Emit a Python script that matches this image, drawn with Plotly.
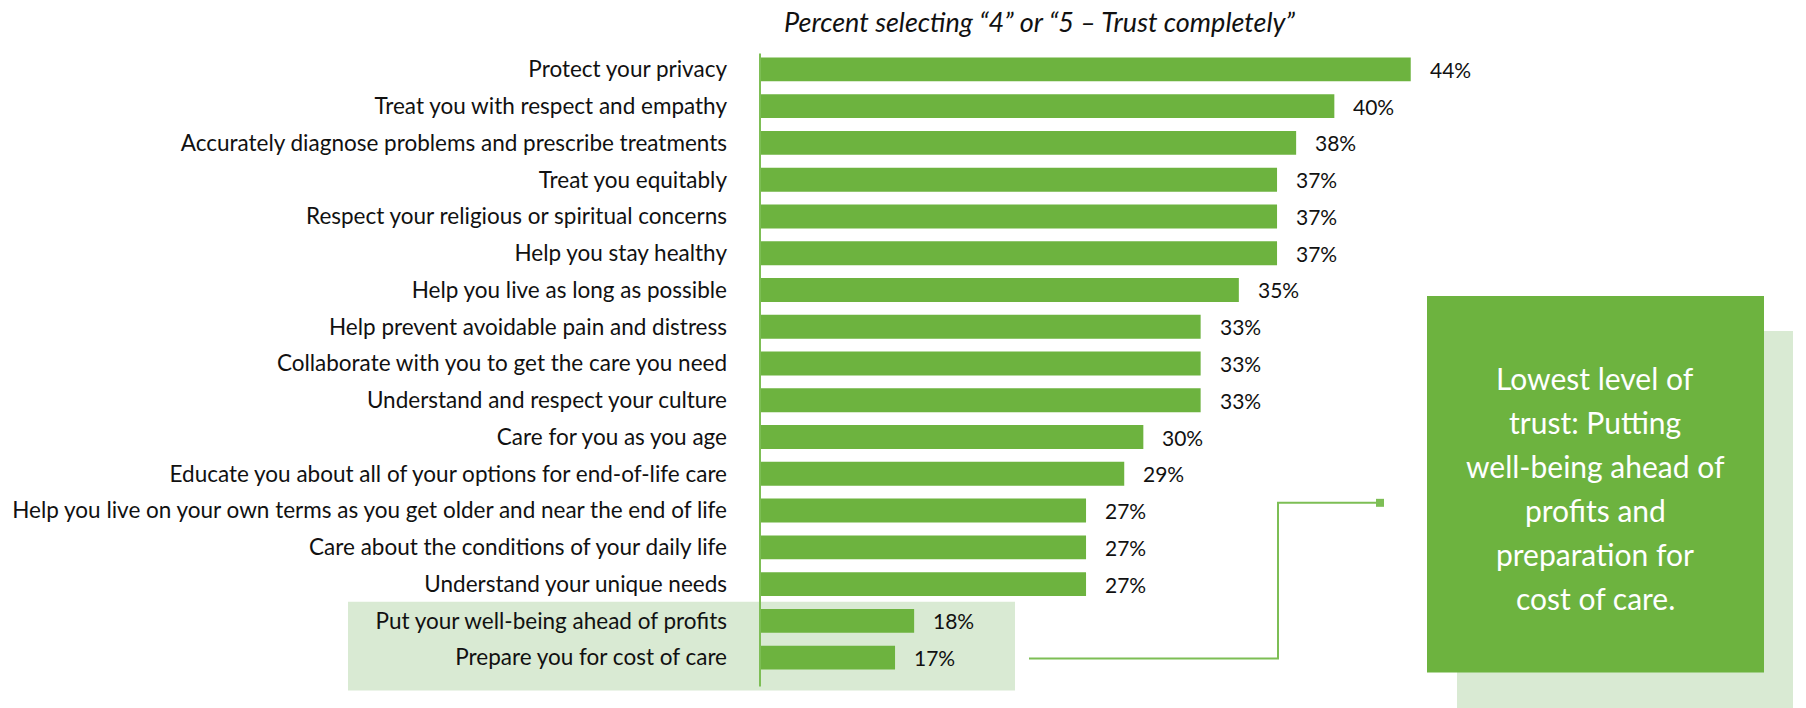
import plotly.graph_objects as go

categories = [
    "Protect your privacy",
    "Treat you with respect and empathy",
    "Accurately diagnose problems and prescribe treatments",
    "Treat you equitably",
    "Respect your religious or spiritual concerns",
    "Help you stay healthy",
    "Help you live as long as possible",
    "Help prevent avoidable pain and distress",
    "Collaborate with you to get the care you need",
    "Understand and respect your culture",
    "Care for you as you age",
    "Educate you about all of your options for end-of-life care",
    "Help you live on your own terms as you get older and near the end of life",
    "Care about the conditions of your daily life",
    "Understand your unique needs",
    "Put your well-being ahead of profits",
    "Prepare you for cost of care",
]
values = [44, 40, 38, 37, 37, 37, 35, 33, 33, 33, 30, 29, 27, 27, 27, 18, 17]
title_text = "Percent selecting \u201c4\u201d or \u201c5 \u2013 Trust completely\u201d"
callout_lines = ["Lowest level of", "trust: Putting", "well-being ahead of",
                 "profits and", "preparation for", "cost of care."]

FONT = "Lato, 'Open Sans', sans-serif"
GREEN = "#6DB33F"
LIGHT = "#D9EAD3"
LINE = "#7DBE55"

W, H = 1806, 708
L, R, T, B = 760, 0, 50.6, 31.6
PW, PH = W - L - R, H - T - B
X0 = 9.93
PXPER = 19.1
XMAX = X0 + PW / PXPER


def px(x):
    return (x - L) / PW


def py(y):
    return (H - B - y) / PH


fig = go.Figure()
fig.add_trace(go.Bar(
    x=values, y=categories, orientation="h",
    marker=dict(color=GREEN, line=dict(width=0)),
    width=0.65, hoverinfo="skip",
))

shapes = [
    dict(type="rect", xref="paper", yref="paper", x0=px(348), x1=px(1015),
         y0=py(691), y1=py(602), fillcolor=LIGHT, line=dict(width=0), layer="below"),
    dict(type="line", xref="paper", yref="paper", x0=px(760), x1=px(760),
         y0=py(687), y1=py(53), line=dict(color=LINE, width=2), layer="above"),
    dict(type="rect", xref="paper", yref="paper", x0=px(1457), x1=px(1793),
         y0=py(710), y1=py(331), fillcolor=LIGHT, line=dict(width=0), layer="above"),
    dict(type="rect", xref="paper", yref="paper", x0=px(1427), x1=px(1764),
         y0=py(673), y1=py(296), fillcolor=GREEN, line=dict(width=0), layer="above"),
    dict(type="path", xref="paper", yref="paper",
         path=f"M {px(1029)},{py(659)} L {px(1278)},{py(659)} L {px(1278)},{py(503)} L {px(1380)},{py(503)}",
         line=dict(color=LINE, width=2), layer="above"),
    dict(type="rect", xref="paper", yref="paper", x0=px(1376), x1=px(1384),
         y0=py(507), y1=py(499), fillcolor=LINE, line=dict(width=0), layer="above"),
]

annotations = [
    dict(text=title_text, xref="paper", yref="paper", x=px(1040), y=py(21),
         xanchor="center", yanchor="middle", showarrow=False, borderpad=0,
         font=dict(family=FONT, size=27, color="#111111", style="italic")),
]
for i, line in enumerate(callout_lines):
    annotations.append(dict(
        text=line, xref="paper", yref="paper", x=px(1595), y=py(378 + 44 * i),
        xanchor="center", yanchor="middle", showarrow=False,
        font=dict(family=FONT, size=30, color="white"),
    ))
for c, v in zip(categories, values):
    annotations.append(dict(
        text=f"{v}%", x=v, y=c, xref="x", yref="y", xanchor="left", yanchor="middle",
        xshift=17, showarrow=False, font=dict(family=FONT, size=21, color="#111111"),
    ))

fig.update_layout(
    width=W, height=H,
    margin=dict(l=L, r=R, t=T, b=B, pad=0),
    paper_bgcolor="white", plot_bgcolor="rgba(0,0,0,0)",
    showlegend=False, bargap=0.35,
    shapes=shapes, annotations=annotations,
    xaxis=dict(range=[X0, XMAX], visible=False, fixedrange=True),
    yaxis=dict(categoryorder="array", categoryarray=categories, autorange="reversed",
               showgrid=False, zeroline=False, showline=False, ticks="",
               ticklabelstandoff=32, fixedrange=True,
               tickfont=dict(family=FONT, size=22.5, color="#111111")),
    font=dict(family=FONT),
)

fig.write_html("out.html",
               config={"displayModeBar": False, "staticPlot": True},
               post_script="document.body.style.margin='0px';document.body.style.overflow='hidden';")
